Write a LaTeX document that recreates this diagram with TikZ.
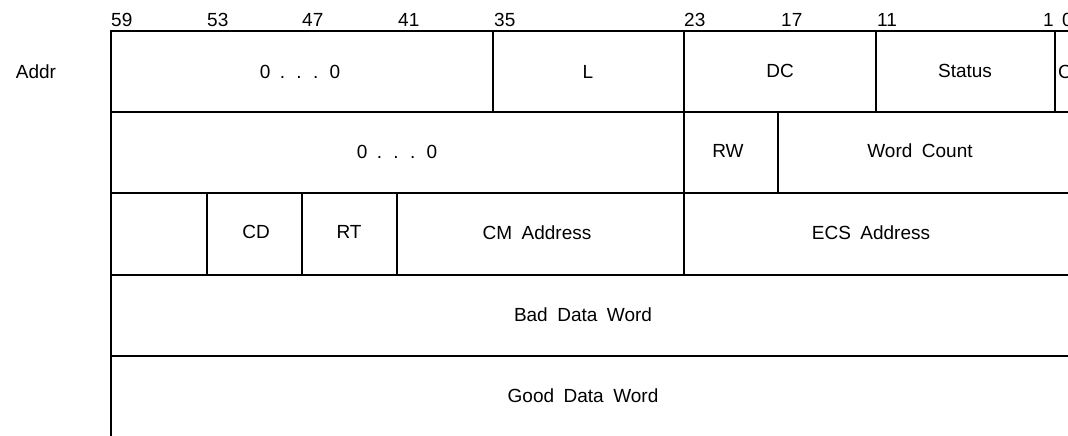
\documentclass[tikz,border=0pt]{standalone}
\usepackage{fontspec}
\setmainfont{Liberation Sans}[WordSpace=1.8]
\begin{document}
\begin{tikzpicture}[x=1pt,y=-1pt,
  grid/.style={line width=2pt, line cap=rect},
  field/.style={inner sep=0pt, font=\fontsize{19}{22}\selectfont},
  bitlbl/.style={inner sep=0pt, font=\fontsize{19}{22}\selectfont, anchor=base west}]
\useasboundingbox (0,0) rectangle (1068,436);
\clip (0,0) rectangle (1068,436);
% coordinates of the grid
\coordinate (tl) at (111,31);
\coordinate (tr) at (1080,31);
\coordinate (bl) at (111,440);
% horizontal lines
\foreach \y in {31,112,193,275,356}{
  \draw[grid] (111,\y) -- (1080,\y);
}
\draw[grid] (tl) -- (bl);
% row 1 dividers
\foreach \x in {493,684,876,1055}{
  \draw[grid] (\x,31) -- (\x,112);
}
% row 2 dividers
\foreach \x in {684,778}{
  \draw[grid] (\x,112) -- (\x,193);
}
% row 3 dividers
\foreach \x in {207,302,397,684}{
  \draw[grid] (\x,193) -- (\x,275);
}
% bit labels
\node[bitlbl] (b59) at (111,27) {59};
\node[bitlbl] (b53) at (207,27) {53};
\node[bitlbl] (b47) at (302,27) {47};
\node[bitlbl] (b41) at (398,27) {41};
\node[bitlbl] (b35) at (494,27) {35};
\node[bitlbl] (b23) at (684,27) {23};
\node[bitlbl] (b17) at (781,27) {17};
\node[bitlbl] (b11) at (877,27) {11};
\node[bitlbl, anchor=base east] (b1) at (1054,27) {1};
\node[bitlbl] (b0) at (1062,27) {0};
% row labels
\node[field] (addr) at (36,72) {Addr};
% row 1
\node[field] (z1) at (300,72) {0 . . . 0};
\node[field] (l) at (588,72) {L};
\node[field] (dc) at (780,71) {DC};
\node[field] (st) at (965,71) {Status};
\node[field, anchor=west] (c) at (1058,72) {C};
% row 2
\node[field] (z2) at (397,152) {0 . . . 0};
\node[field] (rw) at (728,151) {RW};
\node[field] (wc) at (920,151) {Word Count};
% row 3
\node[field] (cd) at (256,232) {CD};
\node[field] (rt) at (349,232) {RT};
\node[field] (cm) at (537,233) {CM Address};
\node[field] (ecs) at (871,233) {ECS Address};
% row 4, 5
\node[field] (bad) at (583,315) {Bad Data Word};
\node[field] (good) at (583,396) {Good Data Word};
\end{tikzpicture}
\end{document}
